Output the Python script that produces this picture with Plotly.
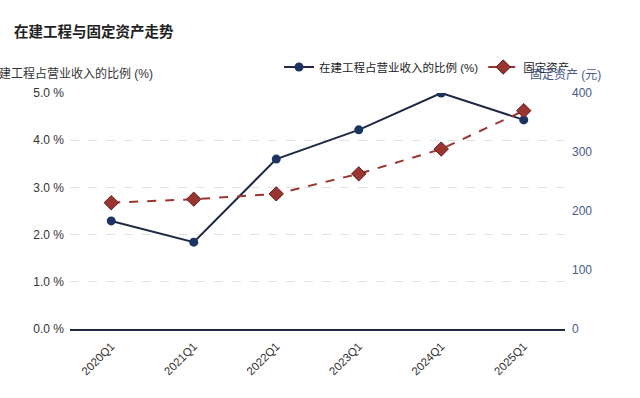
import plotly.graph_objects as go

categories = ["2020Q1", "2021Q1", "2022Q1", "2023Q1", "2024Q1", "2025Q1"]
cip_ratio = [2.29, 1.84, 3.60, 4.22, 5.00, 4.43]
fixed_assets = [214, 220, 229, 263, 305, 370]
left_ticks = [0, 1, 2, 3, 4, 5]
left_tick_text = ["0.0 %", "1.0 %", "2.0 %", "3.0 %", "4.0 %", "5.0 %"]
right_ticks = [0, 100, 200, 300, 400]

NAVY = "#1c3461"
RED = "#9b3530"
FONT = "Liberation Sans, Noto Sans CJK SC, sans-serif"

fig = go.Figure()
fig.add_trace(go.Scatter(
    x=categories, y=cip_ratio, name="在建工程占营业收入的比例 (%)",
    mode="lines+markers",
    line=dict(color="#1e2a44", width=2),
    marker=dict(symbol="circle", size=9, color=NAVY),
    yaxis="y",
))
fig.add_trace(go.Scatter(
    x=categories, y=fixed_assets, name="固定资产",
    mode="lines+markers",
    line=dict(color=RED, width=2, dash="dash"),
    marker=dict(symbol="diamond", size=11, color=RED, line=dict(color="#5c1c1c", width=1)),
    yaxis="y2",
))

fig.update_layout(
    width=640, height=398,
    margin=dict(l=70, r=75, t=93, b=69, autoexpand=False),
    paper_bgcolor="white", plot_bgcolor="white",
    font=dict(family=FONT, size=12, color="#333333"),
    title=dict(text="<b>在建工程与固定资产走势</b>", x=14/640, xanchor="left",
               y=1 - 32/398, yanchor="middle", xref="container", yref="container",
               font=dict(size=14.5, color="#222222")),
    showlegend=True,
    legend=dict(orientation="h", x=(279-70)/495, xanchor="left", y=(329-67)/236,
                yanchor="middle", font=dict(size=11.5, color="#222222"),
                bgcolor="rgba(0,0,0,0)", itemwidth=30),
    xaxis=dict(
        type="category", range=[-0.5, 5.5], automargin=False,
        showline=True, linecolor="#1e2a44", linewidth=2,
        showgrid=False, ticks="", tickangle=-45, ticklabelstandoff=4,
        tickfont=dict(size=11.5, color="#333333"),
        zeroline=False,
    ),
    yaxis=dict(
        range=[0, 5], tickvals=left_ticks, ticktext=left_tick_text, automargin=False,
        showgrid=True, gridcolor="#e3e3e3", griddash="dash", gridwidth=1,
        zeroline=False, showline=False, ticks="", ticklabelstandoff=5,
        tickfont=dict(size=12, color="#333333"),
    ),
    yaxis2=dict(
        range=[0, 400], tickvals=right_ticks, automargin=False,
        overlaying="y", side="right", showgrid=False, zeroline=False,
        showline=False, ticks="", ticklabelstandoff=6,
        tickfont=dict(size=12, color="#4a5a8c"),
    ),
    annotations=[
        dict(text="在建工程占营业收入的比例 (%)", xref="paper", yref="paper", x=0, y=1,
             yshift=20, xanchor="center", yanchor="middle", showarrow=False,
             font=dict(size=12, color="#333333")),
        dict(text="固定资产 (元)", xref="paper", yref="paper", x=1, y=1,
             yshift=19, xanchor="center", yanchor="middle", showarrow=False,
             font=dict(size=12, color="#4a5a8c")),
    ],
)

fig.write_html("out.html", config={"displayModeBar": False},
               post_script="document.body.style.margin='0';document.body.style.overflow='hidden';")
